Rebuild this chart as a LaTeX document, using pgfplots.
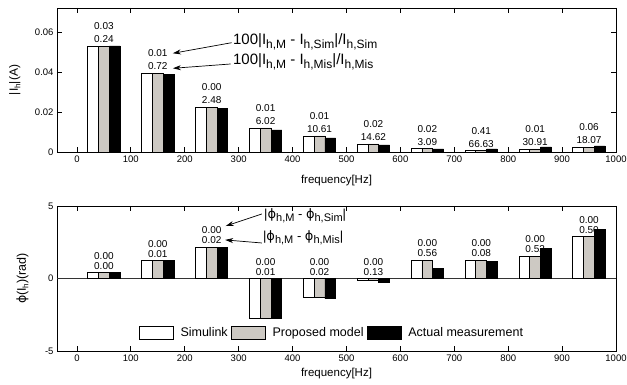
\documentclass[border=0pt]{standalone}
\usepackage{pgfplots}
\pgfplotsset{compat=1.18}
\usepackage{fontspec}
\setmainfont{Liberation Sans}
\newfontfamily\dejavu{DejaVu Sans}
\usetikzlibrary{arrows.meta}
\definecolor{propgray}{RGB}{205,201,195}
\newcommand\sbs[1]{\raisebox{-3.5pt}{\fontsize{12}{12}\selectfont #1}}
\newcommand\sbsb[1]{\raisebox{-3pt}{\fontsize{11}{11}\selectfont #1}}
\newcommand\lblfont{\fontsize{10}{10}\selectfont}
% x, y, line1, line2, spacing
\newcommand\lbl[5]{%
  \node[anchor=base,inner sep=0pt,font=\lblfont,yshift=3.4pt] at (axis cs:#1,#2) {#4};
  \node[anchor=base,inner sep=0pt,font=\lblfont,yshift=3.4pt+#5] at (axis cs:#1,#2) {#3};}
\pgfplotstableread{
x    w      g      b
50   0.0530 0.0528 0.0530
150  0.0393 0.0393 0.0388
250  0.0223 0.0223 0.0218
350  0.0120 0.0120 0.0110
450  0.0080 0.0080 0.0070
550  0.0040 0.0040 0.0035
650  0.0017 0.0017 0.0015
750  0.0007 0.0007 0.0015
850  0.0015 0.0015 0.0025
950  0.0023 0.0023 0.0030
}\magtable
\pgfplotstableread{
x    w      g      b
50   0.42   0.42   0.42
150  1.23   1.23   1.23
250  2.17   2.17   2.17
350  -2.72  -2.72  -2.72
450  -1.33  -1.33  -1.40
550  -0.16  -0.16  -0.28
650  1.25   1.25   0.69
750  1.25   1.25   1.15
850  1.53   1.53   2.05
950  2.87   2.87   3.40
}\phtable
\pgfplotsset{
  common/.style={
    scale only axis, width=559pt, xmin=-37, xmax=1000, clip=false,
    scaled x ticks=false, scaled y ticks=false,
    xtick={0,100,...,1000},
    xticklabels={0,100,200,300,400,500,600,700,800,900,1000},
    tick label style={font=\fontsize{9.5}{10}\selectfont},
    major tick length=5pt,
    axis line style={line width=0.9pt},
    tick style={line width=0.8pt, black},
    xlabel={frequency[Hz]},
  },
  wbar/.style={ybar, bar width=20, bar shift=-20, fill=white, draw=black, line width=0.8pt},
  gbar/.style={ybar, bar width=20, bar shift=0, fill=propgray, draw=black, line width=0.8pt},
  bbar/.style={ybar, bar width=20, bar shift=20, fill=black, draw=black, line width=0.8pt},
}
\begin{document}
\begin{tikzpicture}
\path[use as bounding box] (0pt,0pt) rectangle (627pt,385pt);
% ---------- top axis ----------
\begin{axis}[common,
  at={(57pt,377pt)}, anchor=north west, height=144pt,
  ymin=0, ymax=0.072,
  ytick={0,0.02,0.04,0.06}, yticklabels={0,0.02,0.04,0.06},
  xlabel style={at={(axis description cs:0.5,-0.217)}, anchor=base, font=\fontsize{11.5}{12}\selectfont},
  ylabel={|I\raisebox{-2.5pt}{\fontsize{8}{8}\selectfont h}|(A)},
  ylabel style={at={(axis description cs:-0.0698,0.5)}, anchor=base, font=\fontsize{12}{12}\selectfont},
]
\addplot[wbar] table[x=x,y=w] {\magtable};
\addplot[gbar] table[x=x,y=g] {\magtable};
\addplot[bbar] table[x=x,y=b] {\magtable};
\lbl{50}{0.0530}{0.03}{0.24}{13pt}
\lbl{150}{0.0393}{0.01}{0.72}{13pt}
\lbl{250}{0.0223}{0.00}{2.48}{13pt}
\lbl{350}{0.0120}{0.01}{6.02}{13pt}
\lbl{450}{0.0080}{0.01}{10.61}{13pt}
\lbl{550}{0.0040}{0.02}{14.62}{13pt}
\lbl{650}{0.0017}{0.02}{3.09}{13pt}
\lbl{750}{0.0007}{0.41}{66.63}{13pt}
\lbl{850}{0.0015}{0.01}{30.91}{13pt}
\lbl{950}{0.0023}{0.06}{18.07}{13pt}
\node[anchor=base west,inner sep=0pt,font=\fontsize{15}{15}\selectfont] at (axis cs:289.4,0.0535) {100|I\sbs{h,M} - I\sbs{h,Sim}|/I\sbs{h,Sim}};
\node[anchor=base west,inner sep=0pt,font=\fontsize{15}{15}\selectfont] at (axis cs:289.4,0.0435) {100|I\sbs{h,M} - I\sbs{h,Mis}|/I\sbs{h,Mis}};
\draw[-{Stealth[length=8pt,width=5pt]}, line width=0.7pt] (axis cs:287,0.05465) -- (axis cs:178,0.04935);
\draw[-{Stealth[length=8pt,width=5pt]}, line width=0.7pt] (axis cs:285,0.0440) -- (axis cs:178,0.04185);
\end{axis}
% ---------- bottom axis ----------
\begin{axis}[common,
  at={(57pt,179pt)}, anchor=north west, height=145pt,
  ymin=-5, ymax=5,
  ytick={-5,0,5}, yticklabels={-5,0,5},
  xlabel style={at={(axis description cs:0.5,-0.177)}, anchor=base, font=\fontsize{11.5}{12}\selectfont},
  ylabel={{\dejavu ϕ}(I\raisebox{-2.5pt}{\fontsize{8}{8}\selectfont h})(rad)},
  ylabel style={at={(axis description cs:-0.0555,0.5)}, anchor=base, font=\fontsize{12.5}{12.5}\selectfont},
  legend columns=3,
  legend style={at={(axis description cs:0.1467,0.124)}, anchor=west, draw=none, fill=none,
    inner sep=0pt, font=\fontsize{12.5}{13}\selectfont,
    nodes={inner sep=1.5pt},
    /tikz/every even column/.append style={column sep=2pt},
    /tikz/every odd column/.append style={column sep=5pt}},
]
\draw[line width=0.8pt, black!80] (axis cs:-37,0) -- (axis cs:1000,0);
\addplot[wbar, legend image code/.code={\draw[fill=white,draw=black,line width=0.8pt] (0pt,-6.5pt) rectangle (34pt,6.5pt);}] table[x=x,y=w] {\phtable};
\addlegendentry{Simulink}
\addplot[gbar, legend image code/.code={\draw[fill=propgray,draw=black,line width=0.8pt] (0pt,-6.5pt) rectangle (34pt,6.5pt);}] table[x=x,y=g] {\phtable};
\addlegendentry{Proposed model}
\addplot[bbar, legend image code/.code={\draw[fill=black,draw=black,line width=0.8pt] (0pt,-6.5pt) rectangle (34pt,6.5pt);}] table[x=x,y=b] {\phtable};
\addlegendentry{Actual measurement}
\lbl{50}{0.42}{0.00}{0.00}{10pt}
\lbl{150}{1.23}{0.00}{0.01}{10pt}
\lbl{250}{2.17}{0.00}{0.02}{10pt}
\lbl{350}{0}{0.00}{0.01}{10pt}
\lbl{450}{0}{0.00}{0.02}{10pt}
\lbl{550}{0}{0.00}{0.13}{10pt}
\lbl{650}{1.25}{0.00}{0.56}{10pt}
\lbl{750}{1.25}{0.00}{0.08}{10pt}
\lbl{850}{1.53}{0.00}{0.52}{10pt}
\lbl{950}{2.87}{0.00}{0.50}{10pt}
\node[anchor=base west,inner sep=0pt,font=\fontsize{13}{13}\selectfont] at (axis cs:347,4.17) {|{\dejavu ϕ}\sbsb{h,M} - {\dejavu ϕ}\sbsb{h,Sim}|};
\node[anchor=base west,inner sep=0pt,font=\fontsize{13}{13}\selectfont] at (axis cs:345,2.59) {|{\dejavu ϕ}\sbsb{h,M} - {\dejavu ϕ}\sbsb{h,Mis}|};
\draw[-{Stealth[length=8pt,width=5pt]}, line width=0.7pt] (axis cs:343,4.45) -- (axis cs:276,3.62);
\draw[-{Stealth[length=8pt,width=5pt]}, line width=0.7pt] (axis cs:343,2.45) -- (axis cs:275,2.66);
\end{axis}
\end{tikzpicture}
\end{document}
